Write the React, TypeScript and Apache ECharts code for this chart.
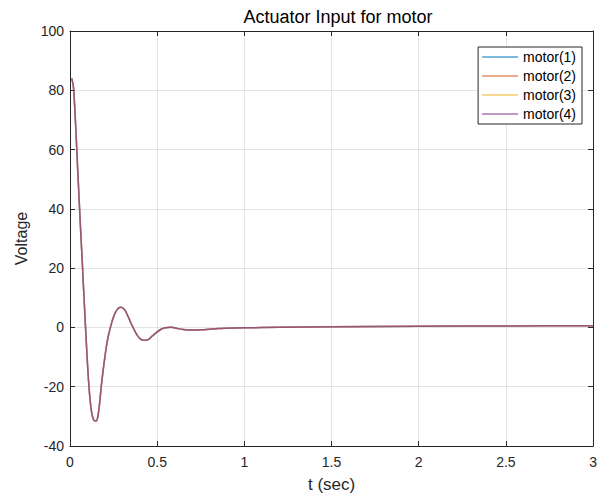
import React, { useEffect, useRef } from "react";
import * as echarts from "echarts";

const seriesNames = ["motor(1)", "motor(2)", "motor(3)", "motor(4)"];
const seriesColors = ["#0072BD", "#D95319", "#EDB120", "#7E2F8E"];
const legendColors = ["#80B9DE", "#ECA98C", "#F6D890", "#BF97C7"];
const seriesOpacity = [0.5, 0.5, 0.5, 0.65];

const times = [
  0.01, 0.02, 0.03, 0.04, 0.05, 0.06, 0.07, 0.08, 0.09, 0.1, 0.11, 0.12, 0.13, 0.14, 0.15,
  0.16, 0.17, 0.18, 0.19, 0.2, 0.21, 0.22, 0.23, 0.24, 0.25, 0.26, 0.27, 0.28, 0.29, 0.3,
  0.31, 0.32, 0.33, 0.34, 0.35, 0.36, 0.37, 0.38, 0.39, 0.4, 0.41, 0.42, 0.43, 0.44, 0.45,
  0.46, 0.47, 0.48, 0.5, 0.52, 0.54, 0.56, 0.58, 0.6, 0.62, 0.65, 0.7, 0.75, 0.8, 0.85,
  0.9, 1.0, 1.2, 1.5, 2.0, 2.5, 3.0,
];

const voltage = [
  84, 81, 71, 58.5, 46, 34, 22.5, 10.5, -1, -12, -21, -27, -30.3, -31.5, -31.6,
  -30, -25.5, -19.5, -14.5, -10, -6, -2.8, -0.4, 1.8, 3.6, 5.0, 6.0, 6.6, 6.8, 6.7,
  6.2, 5.3, 4.1, 2.8, 1.4, 0.2, -1.0, -2.1, -3.0, -3.7, -4.1, -4.3, -4.35, -4.3, -4.0,
  -3.6, -3.0, -2.5, -1.5, -0.7, -0.2, 0.0, 0.05, -0.1, -0.4, -0.7, -0.9, -0.8, -0.6, -0.4,
  -0.3, -0.15, 0.05, 0.2, 0.4, 0.5, 0.6,
];

const motorVoltages = [voltage, voltage, voltage, voltage];

const xTicks = { min: 0, max: 3, interval: 0.5 };
const yTicks = { min: -40, max: 100, interval: 20 };

const FONT = "'Liberation Sans', Arial, Helvetica, sans-serif";
const AXIS_COLOR = "#262626";

export default function App() {
  const ref = useRef<HTMLDivElement>(null);

  useEffect(() => {
    if (!ref.current) return;
    const chart = echarts.init(ref.current, undefined, { renderer: "svg" });

    const axisCommon = {
      type: "value" as const,
      axisLine: { show: true, onZero: false, lineStyle: { color: AXIS_COLOR, width: 1 } },
      axisTick: { show: true, inside: true, length: 5, lineStyle: { color: AXIS_COLOR } },
    };

    chart.setOption({
      animation: false,
      backgroundColor: "#ffffff",
      textStyle: { fontFamily: FONT },
      title: {
        text: "Actuator Input for motor",
        left: 333,
        top: 3,
        textAlign: "center",
        textStyle: { fontFamily: FONT, fontSize: 18, fontWeight: "normal", color: "#000000" },
      },
      grid: { left: 70, right: 3, top: 31, bottom: 52, containLabel: false },
      legend: {
        orient: "vertical",
        right: 18,
        top: 47,
        icon: "rect",
        itemWidth: 36,
        itemHeight: 2,
        itemGap: 5,
        padding: [3, 6, 3, 4],
        borderColor: AXIS_COLOR,
        borderWidth: 1,
        backgroundColor: "#ffffff",
        textStyle: { fontFamily: FONT, fontSize: 14, lineHeight: 14, color: "#000000" },
        data: seriesNames.map((name, k) => ({
          name,
          itemStyle: { color: legendColors[k], opacity: 1 },
        })),
      },
      xAxis: [
        {
          ...axisCommon,
          position: "bottom",
          ...xTicks,
          name: "t (sec)",
          nameLocation: "middle",
          nameGap: 30,
          nameTextStyle: { fontFamily: FONT, fontSize: 17, color: AXIS_COLOR },
          axisLabel: { fontFamily: FONT, fontSize: 14, color: AXIS_COLOR, margin: 9 },
          splitLine: { show: true, lineStyle: { color: "#e3e3e3", width: 1 } },
        },
        {
          ...axisCommon,
          position: "top",
          ...xTicks,
          axisLabel: { show: false },
          splitLine: { show: false },
        },
      ],
      yAxis: [
        {
          ...axisCommon,
          position: "left",
          ...yTicks,
          name: "Voltage",
          nameLocation: "middle",
          nameGap: 40,
          nameTextStyle: { fontFamily: FONT, fontSize: 16, color: AXIS_COLOR },
          axisLabel: { fontFamily: FONT, fontSize: 14, color: AXIS_COLOR, margin: 6 },
          splitLine: { show: true, lineStyle: { color: "#e3e3e3", width: 1 } },
        },
        {
          ...axisCommon,
          position: "right",
          ...yTicks,
          axisLabel: { show: false },
          splitLine: { show: false },
        },
      ],
      series: seriesNames.map((name, k) => ({
        name,
        type: "line",
        xAxisIndex: 0,
        yAxisIndex: 0,
        symbol: "none",
        smooth: 0.3,
        color: seriesColors[k],
        lineStyle: { color: seriesColors[k], width: 1.5, opacity: seriesOpacity[k] },
        data: times.map((t, i) => [t, motorVoltages[k][i]]),
      })),
    });

    return () => chart.dispose();
  }, []);

  return (
    <div
      ref={ref}
      style={{ position: "fixed", left: 0, top: 0, width: 600, height: 498 }}
    />
  );
}
